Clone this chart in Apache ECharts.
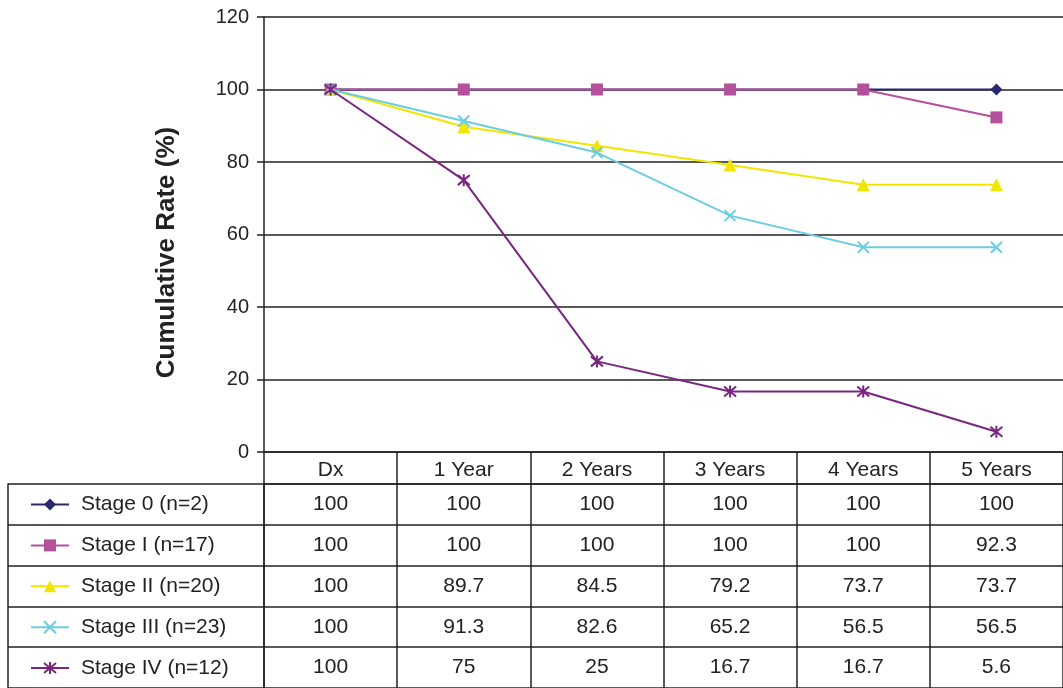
<!DOCTYPE html>
<html>
<head>
<meta charset="utf-8">
<title>Cumulative Rate by Stage</title>
<script src="https://cdn.jsdelivr.net/npm/echarts@6/dist/echarts.min.js"></script>
<style>
  html, body { margin: 0; padding: 0; background: #ffffff; }
  #chart { width: 1063px; height: 688px; }
</style>
</head>
<body>
<div id="chart"></div>
<script>
// Time points (columns) and y-axis ticks
const categories = ['Dx', '1 Year', '2 Years', '3 Years', '4 Years', '5 Years'];
const yTicks = { min: 0, max: 120, interval: 20 };

// Stage names shown in the legend column of the table
const stageNames = ['Stage 0 (n=2)', 'Stage I (n=17)', 'Stage II (n=20)', 'Stage III (n=23)', 'Stage IV (n=12)'];

// Cumulative rate (%) per stage at each time point
const stage0   = [100, 100, 100, 100, 100, 100];
const stageI   = [100, 100, 100, 100, 100, 92.3];
const stageII  = [100, 89.7, 84.5, 79.2, 73.7, 73.7];
const stageIII = [100, 91.3, 82.6, 65.2, 56.5, 56.5];
const stageIV  = [100, 75, 25, 16.7, 16.7, 5.6];

const stageValues = [stage0, stageI, stageII, stageIII, stageIV];

const FONT = "'Liberation Sans', Arial, Helvetica, sans-serif";
const INK = '#222222';

const styles = [
  { color: '#28296e', symbol: 'diamond', size: 12 },
  { color: '#b5509c', symbol: 'rect', size: 12 },
  { color: '#f2e600', symbol: 'triangle', size: 13 },
  { color: '#6dcde0', symbol: 'path://M0,0L10,10M10,0L0,10', size: 11, stroke: true },
  { color: '#7a2580', symbol: 'path://M0,0L10,10M10,0L0,10M5,-1L5,11', size: 12, stroke: true }
];

const lineSeries = stageNames.map((name, i) => {
  const s = styles[i];
  const itemStyle = { color: s.color };
  if (s.stroke) {
    itemStyle.borderColor = s.color;
    itemStyle.borderWidth = 2;
  }
  return {
    name: name,
    type: 'line',
    xAxisIndex: 0,
    yAxisIndex: 0,
    data: stageValues[i],
    symbol: s.symbol,
    symbolSize: s.size,
    showAllSymbol: true,
    lineStyle: { color: s.color, width: 2 },
    itemStyle: itemStyle,
    z: 3 + i
  };
});

// Value cells of the table below the plot, placed by the table's category axes
const cellData = [];
stageNames.forEach((name, r) => {
  categories.forEach((c, k) => {
    cellData.push([c, name, stageValues[r][k]]);
  });
});

const tableSeries = {
  name: 'cells',
  type: 'scatter',
  xAxisIndex: 1,
  yAxisIndex: 1,
  data: cellData,
  symbolSize: 1,
  itemStyle: { color: 'rgba(0,0,0,0)', opacity: 1 },
  silent: true,
  z: 10,
  label: {
    show: true,
    position: 'inside',
    formatter: p => String(p.value[2]),
    fontFamily: FONT,
    fontSize: 21,
    color: INK,
    opacity: 1
  }
};

const gridLine = { color: INK, width: 1.5 };

const chart = echarts.init(document.getElementById('chart'), null, { renderer: 'canvas' });
chart.setOption({
  animation: false,
  backgroundColor: '#ffffff',
  textStyle: { fontFamily: FONT },
  grid: [
    { left: 264, top: 17, width: 807, height: 435 },
    { left: 264, top: 484, width: 807, height: 204.5 }
  ],
  legend: {
    data: stageNames,
    orient: 'vertical',
    left: 30,
    top: 492.5,
    padding: 0,
    itemWidth: 38,
    itemHeight: 15,
    itemGap: 16.9,
    textStyle: { fontFamily: FONT, fontSize: 21, lineHeight: 24, color: INK, padding: [0, 0, 0, 7] },
    selectedMode: false
  },
  xAxis: [
    {
      type: 'category',
      gridIndex: 0,
      data: categories,
      position: 'bottom',
      axisLine: { show: true, lineStyle: gridLine },
      axisTick: { show: true, length: 32, lineStyle: gridLine },
      axisLabel: { fontFamily: FONT, fontSize: 21, color: INK, margin: 8 },
      splitLine: { show: false }
    },
    {
      type: 'category',
      gridIndex: 1,
      data: categories,
      position: 'top',
      axisLine: { show: true, lineStyle: gridLine },
      axisTick: { show: false },
      axisLabel: { show: false },
      splitLine: { show: true, lineStyle: gridLine }
    }
  ],
  yAxis: [
    {
      type: 'value',
      gridIndex: 0,
      min: yTicks.min,
      max: yTicks.max,
      interval: yTicks.interval,
      name: 'Cumulative Rate (%)',
      nameLocation: 'middle',
      nameRotate: 90,
      nameGap: 84,
      nameTextStyle: { fontFamily: FONT, fontSize: 26, fontWeight: 'bold', color: INK, padding: [0, 36, 0, 0] },
      axisLine: { show: true, lineStyle: gridLine },
      axisTick: { show: true, length: 7, lineStyle: gridLine },
      axisLabel: { fontFamily: FONT, fontSize: 20, color: INK, margin: 15 },
      splitLine: { show: true, lineStyle: gridLine }
    },
    {
      type: 'category',
      gridIndex: 1,
      data: stageNames,
      inverse: true,
      position: 'left',
      axisLine: { show: true, lineStyle: gridLine },
      axisTick: { show: true, length: 256, lineStyle: gridLine },
      axisLabel: { show: false },
      splitLine: { show: true, lineStyle: gridLine }
    },
    {
      type: 'category',
      gridIndex: 1,
      data: stageNames,
      inverse: true,
      position: 'left',
      offset: 256,
      axisLine: { show: true, lineStyle: gridLine },
      axisTick: { show: false },
      axisLabel: { show: false },
      splitLine: { show: false }
    }
  ],
  series: lineSeries.concat([tableSeries])
});
</script>
</body>
</html>
